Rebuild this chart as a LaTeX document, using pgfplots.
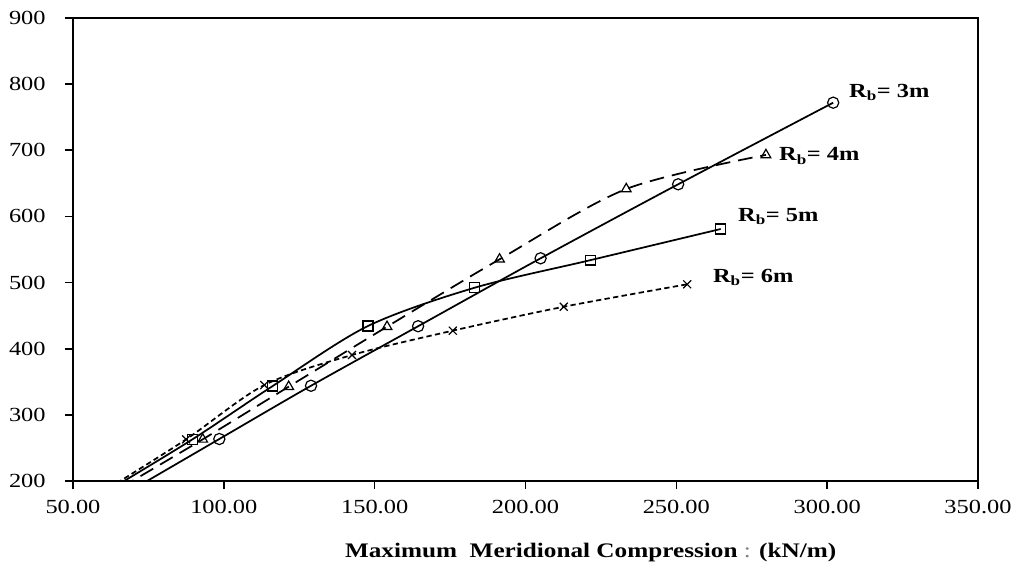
\documentclass[border=0pt]{standalone}
\usepackage{pgfplots}
\pgfplotsset{compat=1.18}
\usepackage{fontspec}
\setmainfont[FakeStretch=1.22]{Liberation Serif}

\begin{document}
\begin{tikzpicture}[font=\fontsize{15}{17}\selectfont]
\useasboundingbox (-54.75pt,-66pt) rectangle (711pt,360.75pt);
\begin{axis}[
  at={(0,0)}, anchor=south west,
  scale only axis, width=678.75pt, height=347.25pt,
  xmin=50, xmax=350, ymin=200, ymax=900,
  xtick={50,100,...,350}, ytick={200,300,...,900},
  tick pos=left, tick align=outside, major tick length=6pt,
  axis line style={line width=1.2pt},
  every tick/.style={black, line width=1.2pt},
  /pgf/number format/assume math mode=true,
  x tick label style={yshift=-5pt, /pgf/number format/.cd, fixed, fixed zerofill, precision=2},
  y tick label style={xshift=-11pt},
  xlabel={\fontsize{15.5}{18}\selectfont\bfseries Maximum\ \ Meridional Compression {\mdseries\color{gray}:} (kN/m)},
  xlabel style={at={(axis description cs:0.572,0)}, anchor=center, yshift=-54pt},
  every axis plot/.append style={black, line width=1.3pt, smooth, tension=0.5,
    mark size=4.2pt, mark options={solid, fill=white, line width=0.9pt},
    mark indices={1,2,3,4,5,6}},
]
% Rb = 3m
\addplot[mark=o] coordinates {
(70.8,190) (98.5,263.5) (128.9,344) (164.4,434) (205.0,536.7) (250.6,648.6) (302.0,772)};
% Rb = 4m
\addplot[mark=triangle, dash pattern=on 11pt off 6pt] coordinates {
(65.9,190) (93.0,263) (121.5,342.6) (154.1,433.3) (191.4,535.2) (233.4,641.5) (279.7,693)};
% Rb = 5m
\addplot[mark=square, mark size=3.7pt] coordinates {
(63.3,190) (89.6,263) (116.2,343.6) (147.8,434.4) (183.2,492.3) (221.6,534) (264.7,581)};
% Rb = 6m
\addplot[mark=x, dash pattern=on 4pt off 2.5pt] coordinates {
(62.1,190) (87.5,263) (113.4,345) (142.5,390.5) (175.9,427.3) (212.7,463.5) (253.6,497.4)};

\tikzset{rb/.style={anchor=west, inner sep=0pt, font=\fontsize{15}{18}\selectfont\bfseries}}
\node[rb] at (axis cs:307.2,788) {R\textsubscript{b}= 3m};
\node[rb] at (axis cs:284.0,691.4) {R\textsubscript{b}= 4m};
\node[rb] at (axis cs:270.4,599.2) {R\textsubscript{b}= 5m};
\node[rb] at (axis cs:262.1,508.4) {R\textsubscript{b}= 6m};
\end{axis}
\end{tikzpicture}
\end{document}
